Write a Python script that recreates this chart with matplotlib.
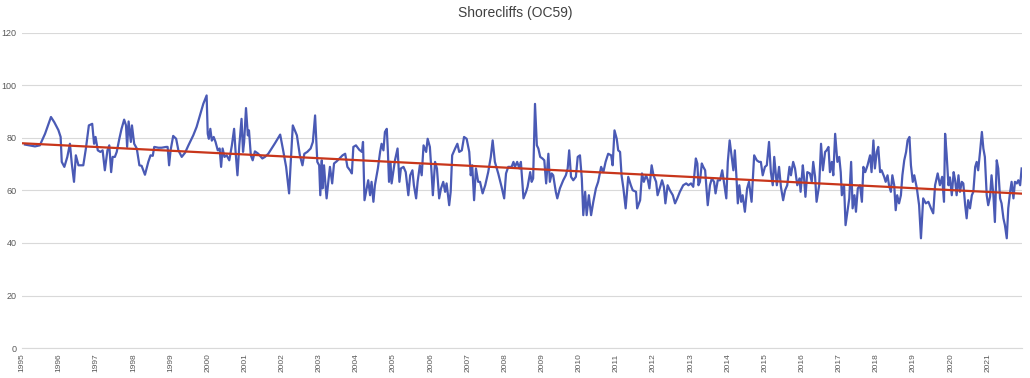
import numpy as np
import matplotlib
matplotlib.use("Agg")
import matplotlib.pyplot as plt

title = "Shorecliffs (OC59)"

# decimal year of each reading
years = [
1995.08,1995.35,1995.48,1995.62,1995.78,1995.87,1995.98,1996.04,1996.07,1996.14,1996.22,1996.29,1996.34,1996.40,1996.45,1996.52,1996.65,1996.72,1996.80,1996.89,1996.94,1996.98,1997.04,1997.11,1997.17,1997.23,
1997.30,1997.35,1997.40,1997.44,1997.50,1997.55,1997.62,1997.68,1997.75,1997.80,1997.83,1997.87,1997.93,1997.96,1998.02,1998.09,1998.16,1998.22,1998.31,1998.40,1998.46,1998.52,1998.56,1998.67,1998.76,1998.88,1998.92,1998.96,
1999.00,1999.07,1999.15,1999.21,1999.30,1999.39,1999.48,1999.61,1999.70,1999.79,1999.88,1999.97,2000.00,2000.03,2000.07,2000.11,2000.16,2000.21,2000.27,2000.32,2000.36,2000.40,2000.45,2000.51,2000.58,2000.65,2000.71,2000.75,2000.80,2000.85,2000.91,2000.95,2000.98,
2001.03,2001.08,2001.11,2001.16,2001.21,2001.27,2001.36,2001.47,2001.54,2001.63,2001.72,2001.81,2001.95,2002.03,2002.11,2002.19,2002.23,2002.29,2002.40,2002.48,2002.55,2002.60,2002.68,2002.77,2002.83,2002.89,2002.95,
2003.00,2003.03,2003.07,2003.09,2003.13,2003.17,2003.20,2003.25,2003.29,2003.35,2003.40,2003.47,2003.56,2003.63,2003.70,2003.76,2003.83,2003.88,2003.92,2003.99,2004.08,2004.15,2004.18,2004.22,2004.28,2004.32,2004.37,2004.41,2004.46,2004.50,2004.58,2004.64,2004.68,2004.73,2004.77,2004.82,2004.85,2004.88,2004.92,2004.95,
2005.00,2005.04,2005.11,2005.16,2005.20,2005.27,2005.33,2005.40,2005.45,2005.51,2005.55,2005.61,2005.65,2005.71,2005.76,2005.81,2005.88,2005.92,2005.98,2006.03,2006.06,2006.12,2006.17,2006.23,2006.28,2006.34,2006.39,2006.43,2006.50,2006.54,2006.58,2006.66,2006.72,2006.77,2006.84,2006.90,2006.97,
2007.04,2007.08,2007.12,2007.17,2007.22,2007.28,2007.33,2007.40,2007.47,2007.55,2007.62,2007.67,2007.73,2007.82,2007.91,2007.98,2008.03,2008.09,2008.18,2008.23,2008.27,2008.33,2008.39,2008.43,2008.50,2008.57,2008.61,2008.68,2008.72,2008.76,2008.81,2008.86,2008.90,2008.95,
2009.01,2009.06,2009.11,2009.17,2009.21,2009.26,2009.30,2009.37,2009.41,2009.48,2009.57,2009.64,2009.69,2009.73,2009.78,2009.84,2009.91,2009.96,2010.02,2010.07,2010.11,2010.16,2010.20,2010.26,2010.32,2010.38,2010.45,2010.51,2010.59,2010.65,2010.71,2010.78,2010.86,2010.90,2010.95,
2011.01,2011.05,2011.10,2011.14,2011.19,2011.25,2011.32,2011.39,2011.44,2011.53,2011.56,2011.64,2011.69,2011.74,2011.80,2011.85,2011.89,2011.95,2012.00,2012.07,2012.11,2012.18,2012.23,2012.28,2012.32,2012.38,2012.44,2012.52,2012.58,2012.64,2012.71,2012.80,2012.88,2012.94,
2013.01,2013.07,2013.14,2013.18,2013.21,2013.25,2013.30,2013.34,2013.39,2013.46,2013.52,2013.57,2013.63,2013.67,2013.73,2013.79,2013.85,2013.91,2013.96,2014.00,2014.05,2014.11,2014.15,2014.19,2014.23,2014.27,2014.31,2014.36,2014.40,2014.46,2014.52,2014.57,2014.64,2014.71,2014.78,2014.84,2014.89,2014.94,
2015.00,2015.05,2015.11,2015.16,2015.21,2015.25,2015.32,2015.38,2015.43,2015.49,2015.54,2015.60,2015.66,2015.70,2015.76,2015.81,2015.87,2015.93,2015.96,2016.02,2016.05,2016.09,2016.14,2016.21,2016.26,2016.30,2016.35,2016.39,2016.46,2016.51,2016.56,2016.62,2016.66,2016.71,2016.75,2016.80,2016.84,2016.89,2016.95,
2017.00,2017.04,2017.07,2017.13,2017.17,2017.22,2017.27,2017.32,2017.36,2017.41,2017.45,2017.50,2017.56,2017.61,2017.65,2017.70,2017.76,2017.83,2017.87,2017.92,2017.96,2018.01,2018.05,2018.10,2018.14,2018.21,2018.25,2018.30,2018.34,2018.39,2018.43,2018.48,2018.52,2018.56,2018.61,2018.66,2018.70,2018.75,2018.80,2018.84,2018.89,2018.93,2018.98,
2019.02,2019.09,2019.15,2019.20,2019.26,2019.33,2019.40,2019.47,2019.53,2019.58,2019.65,2019.71,2019.77,2019.82,2019.85,2019.89,2019.94,2019.98,2020.03,2020.08,2020.12,2020.16,2020.21,2020.25,2020.30,2020.34,2020.39,2020.43,2020.47,2020.52,2020.57,2020.61,2020.66,2020.70,2020.74,2020.79,2020.84,2020.88,2020.92,2020.97,
2021.01,2021.06,2021.10,2021.15,2021.19,2021.24,2021.28,2021.33,2021.37,2021.42,2021.46,2021.51,2021.55,2021.60,2021.64,2021.69,2021.73,2021.78,2021.82,2021.87,2021.91,
]

levels = [
77.5,76.8,77.2,81.6,88.0,86.0,83.0,80.4,70.9,69.0,72.8,77.8,70.3,63.3,73.4,69.6,69.6,76.0,84.8,85.4,77.8,80.4,75.3,74.7,75.3,67.7,
75.3,77.2,67.0,72.8,72.8,74.7,79.7,83.5,87.0,84.8,76.6,86.3,78.5,84.8,77.8,76.0,69.6,69.4,66.0,70.9,73.4,73.2,76.6,76.3,76.3,76.6,76.6,69.6,
75.3,80.8,79.7,75.3,72.8,74.4,77.2,81.0,84.2,88.6,93.0,96.2,81.6,79.7,83.5,79.0,80.4,78.5,75.3,76.0,69.0,76.0,72.8,73.4,71.5,77.2,83.5,74.7,65.8,77.2,87.3,74.7,78.5,
91.4,81.0,82.9,73.4,71.5,74.9,74.0,72.2,72.8,74.0,76.0,78.0,81.3,75.3,69.0,58.9,69.6,84.8,81.0,73.4,69.6,74.0,74.7,76.0,78.5,88.6,70.9,
69.6,58.2,71.5,60.8,69.6,62.0,57.0,63.9,69.0,62.7,70.3,71.1,72.4,73.4,74.0,69.0,67.7,66.5,76.6,77.2,75.5,74.7,78.5,56.3,60.8,63.9,58.2,63.3,55.7,62.0,68.4,74.7,77.8,75.3,82.3,83.5,74.7,63.3,70.9,62.7,
67.7,71.5,76.0,63.3,68.4,69.0,67.0,58.2,65.8,67.7,62.0,57.0,63.3,69.6,65.8,77.2,74.7,79.7,76.6,65.8,58.2,70.9,68.4,57.0,60.8,63.3,59.5,62.7,54.4,59.5,73.4,76.0,77.8,74.7,75.3,80.4,79.7,
74.7,65.8,69.6,56.3,68.4,63.3,63.3,58.9,62.0,67.0,72.8,79.1,70.9,66.5,61.4,57.0,66.5,69.0,69.0,70.9,69.0,70.9,68.4,70.9,57.0,59.5,61.4,67.0,63.3,64.6,93.0,77.2,76.0,72.8,
72.2,71.5,62.7,74.0,63.3,66.5,65.8,59.5,57.0,60.8,63.9,65.8,68.4,75.3,65.2,63.9,65.2,72.8,73.4,64.6,50.6,59.5,50.6,58.2,50.6,55.7,60.8,63.3,69.0,67.0,70.9,74.0,73.4,69.6,82.9,
79.7,75.3,74.7,65.8,60.8,53.2,65.2,62.0,60.1,59.5,53.2,56.3,66.5,63.3,65.8,63.9,60.8,69.6,65.8,63.3,58.2,61.4,63.9,61.4,55.1,62.0,60.1,58.2,55.1,57.0,59.5,62.0,62.7,62.0,
62.7,61.4,72.2,70.3,62.0,63.3,70.3,69.0,67.7,54.4,62.0,64.6,63.3,58.9,63.9,63.9,67.7,62.0,57.0,70.9,79.1,72.2,67.7,75.3,65.8,55.1,62.0,55.7,58.2,51.9,60.8,63.3,55.7,73.4,71.5,70.9,70.9,65.8,
69.0,69.6,78.5,67.0,62.0,72.8,62.0,69.0,61.4,56.3,60.0,62.0,69.0,65.8,70.9,68.4,62.0,64.6,59.5,69.6,65.2,57.6,67.0,66.5,63.3,70.9,65.2,55.7,62.0,77.8,67.7,74.7,75.3,76.6,67.0,70.9,65.8,81.6,70.9,
72.8,67.0,58.2,62.0,46.8,51.9,57.0,70.9,53.2,58.2,51.9,60.8,62.0,55.7,69.0,67.0,69.5,73.4,67.0,79.1,68.4,74.7,76.6,67.0,67.7,65.2,63.3,65.8,62.0,59.5,65.8,62.0,52.5,58.2,55.1,58.2,65.8,71.5,74.7,79.1,80.4,69.6,63.3,
65.8,60.8,54.4,41.8,57.0,55.1,55.7,53.2,51.3,62.0,66.5,62.0,65.2,55.7,81.6,74.0,62.0,65.0,58.2,67.0,63.9,58.2,65.8,59.5,63.3,62.7,54.4,49.4,56.3,53.2,58.2,59.5,69.0,70.9,67.7,74.7,82.3,76.0,72.8,58.2,
54.4,57.6,65.8,58.2,48.0,71.5,68.4,57.0,55.1,49.4,46.8,41.8,53.2,59.5,63.3,57.0,63.3,62.7,63.9,62.0,68.4,
]

# linear trend line: value at start and end
trend_years = [1995.0, 2021.92]
trend_levels = [78.0, 58.8]

tick_years = list(range(1995, 2022))
y_ticks = [0, 20, 40, 60, 80, 100, 120]

plt.rcParams['font.family'] = ['Liberation Sans', 'DejaVu Sans']

fig = plt.figure(figsize=(10.30, 3.78), dpi=100)
ax = fig.add_axes([22/1030, 30/378, 1000/1030, 315/378])

ax.plot(years, levels, color="#4a5ab5", lw=1.6, zorder=3, solid_joinstyle="round")
ax.plot(trend_years, trend_levels, color="#c8361b", lw=1.6, zorder=4)

ax.set_xlim(1995.0, 2021.92)
ax.set_ylim(0, 120)
ax.set_yticks(y_ticks)
ax.set_xticks(tick_years)
ax.set_xticklabels([str(t) for t in tick_years], rotation=90, fontsize=6, color="#595959")
ax.set_yticklabels([str(t) for t in y_ticks], fontsize=6.5, color="#595959")
ax.tick_params(length=0, pad=4)
ax.grid(axis="y", color="#d9d9d9", lw=0.8)
for s in ["top", "right", "left"]:
    ax.spines[s].set_visible(False)
ax.spines["bottom"].set_color("#d9d9d9")
ax.spines["bottom"].set_linewidth(0.8)
ax.set_axisbelow(True)

fig.text(0.5, 1 - 13/378, title, ha="center", va="center", fontsize=10, color="#404040")

fig.savefig("out.png", dpi=100)
